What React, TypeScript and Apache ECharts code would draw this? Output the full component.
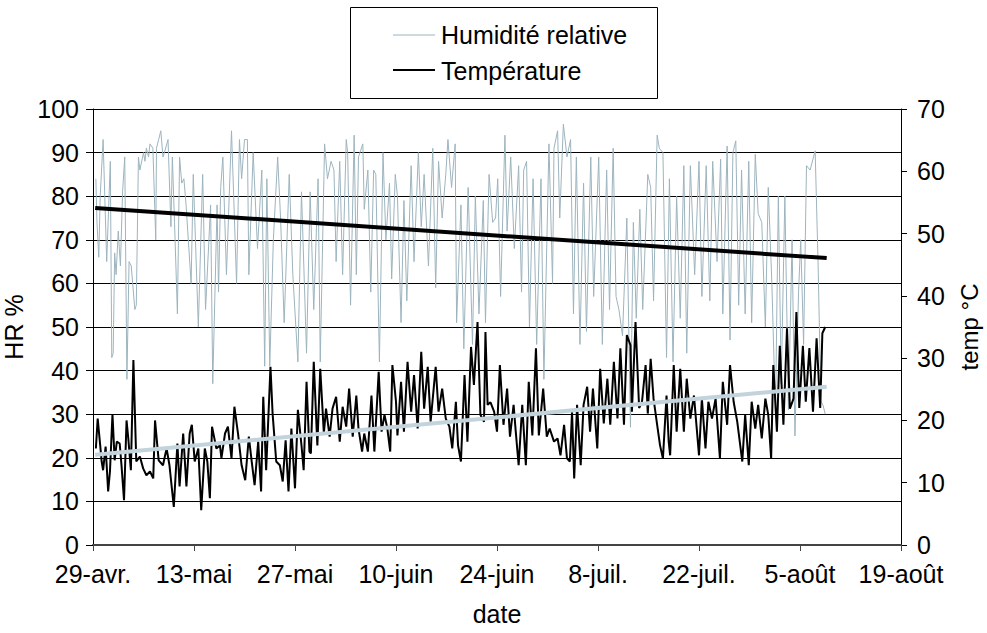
import React, { useEffect, useRef } from "react";
import * as echarts from "echarts";

const xTickLabels = ["29-avr.", "13-mai", "27-mai", "10-juin", "24-juin", "8-juil.", "22-juil.", "5-août", "19-août"];
const legendNames = ["Humidité relative", "Température"];

const hrDays = [
  0.4, 0.55, 0.8, 1.0, 1.4, 1.9, 2.4, 2.6, 2.8, 3.0, 3.2, 3.5, 3.8, 4.1, 4.4, 4.7, 5.0, 5.3, 5.8, 6.0,
  6.3, 6.5, 7.0, 7.2, 7.4, 7.7, 7.9, 8.3, 8.7, 8.8, 9.1, 9.4, 9.7, 9.9, 10.4, 10.8, 11.0, 11.3, 11.7, 12.0,
  12.3, 12.6, 12.9, 13.6, 13.9, 14.6, 15.2, 15.6, 16.3, 16.6, 17.2, 17.4, 17.7, 18.0, 18.5, 19.2, 19.9, 20.3, 20.6, 21.0,
  21.4, 21.6, 22.2, 22.8, 23.4, 23.8, 24.1, 24.5, 25.0, 25.6, 26.0, 26.5, 27.2, 27.7, 28.4, 28.9, 29.6, 30.1, 30.6, 31.2,
  31.5, 32.1, 32.5, 33.0, 33.4, 33.7, 34.2, 34.6, 35.1, 35.3, 35.7, 36.2, 36.5, 36.8, 37.4, 37.6, 38.1, 38.5, 38.9, 39.2,
  39.7, 40.2, 40.6, 41.1, 41.4, 41.9, 42.2, 42.7, 43.1, 43.5, 44.1, 44.5, 45.1, 45.5, 45.9, 46.5, 47.1, 47.5, 47.9, 48.4,
  48.9, 49.2, 49.7, 50.2, 50.4, 51.0, 51.4, 52.0, 52.6, 53.0, 53.5, 54.1, 54.4, 54.9, 55.4, 55.8, 56.1, 56.5, 57.1, 57.4,
  57.9, 58.4, 59.0, 59.4, 59.7, 60.1, 60.5, 61.0, 61.5, 62.1, 62.5, 63.2, 63.7, 63.9, 64.4, 64.7, 65.2, 65.7, 66.2, 66.6,
  67.0, 67.5, 68.0, 68.4, 69.0, 69.4, 70.1, 70.6, 71.2, 71.6, 72.1, 72.5, 72.9, 73.4, 74.0, 74.5, 74.9, 75.3, 75.8, 76.2,
  76.9, 77.3, 77.7, 78.2, 78.5, 79.0, 79.5, 79.9, 80.4, 80.9, 81.4, 81.9, 82.3, 82.8, 83.4, 84.0, 84.4, 85.0, 85.5, 85.9,
  86.5, 87.0, 87.3, 87.9, 88.3, 88.7, 89.1, 89.5, 89.9, 90.4, 90.9, 91.3, 91.8, 92.2, 92.7, 93.2, 93.6, 94.1, 94.6, 95.0,
  95.4, 95.9, 96.4, 96.9, 97.3, 97.8, 98.1, 98.5, 98.9, 99.4, 100.1, 100.5, 100.9, 101.2, 101.5
];
const hrValues = [
  84, 74, 66, 80, 93, 65, 88, 43, 44, 67, 62, 72, 64, 81, 89, 38, 65, 64, 54, 55,
  89, 86, 90, 88, 91, 89, 92, 91, 70, 91, 93, 95, 89, 90, 93, 73, 89, 74, 53, 89,
  83, 84, 78, 60, 85, 50, 85, 54, 78, 37, 78, 58, 82, 89, 62, 95, 60, 93, 84, 93,
  93, 62, 90, 68, 86, 41, 84, 41, 70, 89, 75, 51, 85, 62, 42, 81, 44, 81, 54, 84,
  42, 92, 84, 88, 86, 65, 88, 62, 93, 90, 55, 94, 62, 89, 92, 77, 86, 58, 86, 85,
  42, 90, 70, 83, 61, 85, 80, 51, 79, 56, 87, 65, 90, 73, 85, 64, 91, 59, 88, 75,
  85, 93, 82, 92, 51, 78, 45, 82, 46, 80, 53, 79, 51, 85, 74, 75, 84, 57, 94, 72,
  89, 68, 87, 58, 86, 88, 50, 84, 46, 84, 38, 92, 60, 91, 95, 75, 96.5, 89, 93, 53,
  89, 46, 83, 49, 89, 57, 89, 46, 86, 54, 91, 57, 54, 48, 75, 27, 74, 52, 77, 54,
  85, 82, 56, 94, 91, 90, 43, 84, 42, 80, 52, 87, 44, 87, 62, 88, 57, 87, 56, 88,
  65, 88.5, 53, 91.5, 47, 90, 92.7, 55, 86, 53, 88, 51, 89.6, 76, 74, 50, 82, 60, 30, 80,
  37, 80, 31, 70, 25, 58, 70, 46, 87, 86, 90.4, 65, 33, 32, 30
];

const tempDays = [
  0.4, 0.65, 1.0, 1.2, 1.4, 1.75, 2.1, 2.35, 2.7, 3.0, 3.3, 3.7, 3.95, 4.3, 4.65, 4.9, 5.25, 5.6, 6.0, 6.5,
  6.95, 7.4, 7.9, 8.35, 8.6, 9.1, 9.7, 10.2, 10.6, 11.2, 11.7, 12.0, 12.5, 12.95, 13.4, 13.7, 14.1, 14.6, 15.0, 15.5,
  15.85, 16.2, 16.5, 17.1, 17.6, 17.8, 18.3, 18.7, 19.2, 19.6, 20.1, 20.6, 21.1, 21.6, 22.0, 22.4, 22.9, 23.3, 23.6, 24.0,
  24.6, 24.9, 25.4, 25.9, 26.3, 26.7, 27.1, 27.5, 28.0, 28.4, 28.9, 29.2, 29.6, 30.0, 30.2, 30.6, 31.1, 31.5, 32.0, 32.3,
  32.8, 33.2, 33.7, 34.2, 34.6, 35.1, 35.5, 36.0, 36.5, 36.8, 37.3, 37.6, 38.1, 38.6, 39.0, 39.6, 40.0, 40.4, 40.8, 41.2,
  41.5, 42.0, 42.2, 42.7, 43.1, 43.6, 44.1, 44.5, 45.0, 45.5, 45.9, 46.4, 46.8, 47.5, 47.9, 48.4, 48.9, 49.4, 49.8, 50.3,
  50.6, 51.0, 51.5, 51.9, 52.4, 52.8, 53.3, 53.7, 54.2, 54.4, 54.7, 55.1, 55.6, 56.0, 56.4, 56.9, 57.4, 57.8, 58.3, 58.6,
  59.0, 59.5, 60.0, 60.4, 60.9, 61.4, 61.8, 62.4, 62.9, 63.3, 63.9, 64.4, 64.8, 65.3, 65.7, 66.1, 66.4, 66.7, 67.1, 67.6,
  68.0, 68.5, 68.9, 69.3, 69.9, 70.3, 70.8, 71.3, 71.7, 72.2, 72.7, 73.1, 73.6, 74.0, 74.5, 74.7, 75.2, 75.7, 76.1, 76.6,
  76.9, 77.3, 77.7, 78.2, 78.6, 79.0, 79.5, 79.8, 80.0, 80.5, 80.9, 81.4, 81.9, 82.3, 82.8, 83.3, 84.0, 84.4, 84.9, 85.3,
  85.8, 86.3, 86.9, 87.3, 87.9, 88.3, 88.8, 89.3, 90.0, 90.4, 90.9, 91.3, 91.8, 92.2, 92.7, 93.2, 93.6, 94.0, 94.3, 94.8,
  95.2, 95.7, 96.2, 96.6, 97.1, 97.5, 97.9, 98.4, 98.8, 99.3, 99.8, 100.3, 100.8, 101.1, 101.5
];
const tempValues = [
  15.5, 20.3, 16, 13.4, 12, 15.8, 8.6, 11.8, 21, 13.6, 16.6, 16.3, 12.8, 7.2, 20, 17, 12, 29.7, 13.4, 14.2,
  12.3, 11.2, 11.8, 10.7, 20, 13.6, 12.8, 15.5, 12.8, 6.1, 16.3, 9.4, 17.9, 9.4, 17.9, 19.3, 13.4, 15.5, 5.6, 15.5,
  13.4, 7.5, 19, 15.5, 16, 13.9, 17.9, 19, 13.9, 22.2, 17.9, 12.8, 10.4, 17.4, 13.4, 9.6, 16.6, 8.6, 23.8, 12,
  28.6, 21, 13.4, 12.8, 10.2, 16.8, 8.6, 18.7, 9.1, 21.7, 16, 12, 26.2, 15, 14.7, 29.4, 16, 28.3, 17.9, 21.9,
  17.4, 21.9, 23.8, 16.6, 22.2, 19, 25.1, 17.4, 24, 18.7, 15, 17.9, 15, 24, 15, 27.8, 18.2, 20.9, 18.7, 15,
  28.9, 23, 17.6, 26.2, 18.2, 29.4, 21.4, 27.3, 18.7, 31, 21.9, 28.6, 19.8, 28.6, 21.4, 25.1, 20.3, 19, 15.5, 23,
  16, 13.4, 27.3, 16.6, 31.8, 25.7, 35.8, 20.9, 19.8, 34.2, 22.5, 22.9, 21.4, 18.2, 28.9, 19.3, 25.1, 17.4, 22.5, 18.2,
  12.8, 22.5, 12.8, 26.2, 17.6, 31.6, 17.6, 25.1, 17.4, 18.7, 16.6, 17.1, 14.4, 19.3, 13.9, 13.4, 21.4, 10.7, 22.5, 12.8,
  22.5, 25.4, 18.2, 25.1, 15.5, 28.3, 19.5, 26.7, 19.3, 29.4, 20.3, 31.6, 19.3, 33.7, 32.1, 21.4, 35.8, 22, 23, 28.9,
  21.1, 29.9, 23.5, 19.3, 16, 13.9, 24, 16.6, 14.4, 28.9, 18.2, 28.3, 18.2, 26.7, 20.3, 24, 14.4, 23.5, 15.5, 23,
  20.3, 23.5, 13.9, 26.2, 19.3, 28.9, 23, 19.8, 13.4, 20.9, 12.8, 23, 18.7, 22.5, 17.1, 23.5, 20.9, 13.9, 28.9, 18.2,
  32, 19.3, 34.8, 21.9, 23.5, 37.4, 22, 32, 23, 31.6, 21.4, 33.2, 22, 34, 35
];

const trendDays = [0.3, 101.7];
const hrTrendValues = [77.3, 65.8];
const tempTrendValues = [14.5, 25.4];

const zip = (xs: number[], ys: number[]) => xs.map((x, i) => [x, ys[i]]);

const FONT = "'Liberation Sans', Arial, sans-serif";
const HR_COLOR = "#9DB4BE";

export default function App() {
  const ref = useRef<HTMLDivElement>(null);
  useEffect(() => {
    if (!ref.current) return;
    const chart = echarts.init(ref.current, null, { renderer: "svg" });
    chart.setOption({
      animation: false,
      backgroundColor: "#ffffff",
      textStyle: { fontFamily: FONT, color: "#000" },
      legend: { show: false },
      graphic: [
        {
          type: "rect",
          shape: { x: 350.5, y: 7.5, width: 307, height: 91 },
          style: { fill: "#fff", stroke: "#000", lineWidth: 1 },
          z: 10,
        },
        {
          type: "line",
          shape: { x1: 393, y1: 35, x2: 435, y2: 35 },
          style: { stroke: HR_COLOR, lineWidth: 1 },
          z: 11,
        },
        {
          type: "line",
          shape: { x1: 393, y1: 70, x2: 435, y2: 70 },
          style: { stroke: "#000", lineWidth: 2 },
          z: 11,
        },
        {
          type: "text",
          x: 441,
          y: 35,
          style: { text: legendNames[0], fontSize: 25, fontFamily: FONT, fill: "#000", verticalAlign: "middle", align: "left" },
          z: 11,
        },
        {
          type: "text",
          x: 441,
          y: 71,
          style: { text: legendNames[1], fontSize: 25, fontFamily: FONT, fill: "#000", verticalAlign: "middle", align: "left" },
          z: 11,
        },
      ],
      grid: { left: 93, right: 86, top: 109, bottom: 88, containLabel: false, outerBoundsMode: "none" },
      xAxis: {
        type: "value",
        min: 0,
        max: 112,
        interval: 14,
        name: "date",
        nameLocation: "middle",
        nameGap: 56,
        nameTextStyle: { fontSize: 25, color: "#000", fontFamily: FONT },
        axisLine: { show: true, lineStyle: { color: "#444", width: 2 } },
        axisTick: { show: true, length: 6, lineStyle: { color: "#444" } },
        axisLabel: {
          fontSize: 25,
          color: "#000",
          margin: 16,
          fontFamily: FONT,
          formatter: (v: number) => xTickLabels[Math.round(v / 14)] ?? "",
        },
        splitLine: { show: false },
      },
      yAxis: [
        {
          type: "value",
          min: 0,
          max: 100,
          interval: 10,
          position: "left",
          name: "HR %",
          nameLocation: "middle",
          nameRotate: 90,
          nameGap: 58,
          nameTextStyle: { fontSize: 25, color: "#000", fontFamily: FONT },
          axisLine: { show: true, lineStyle: { color: "#000", width: 1 } },
          axisTick: { show: true, length: 7, lineStyle: { color: "#000" } },
          axisLabel: { fontSize: 25, color: "#000", margin: 14, fontFamily: FONT },
          splitLine: { show: true, lineStyle: { color: "#000", width: 1 } },
        },
        {
          type: "value",
          min: 0,
          max: 70,
          interval: 10,
          position: "right",
          name: "temp °C",
          nameLocation: "middle",
          nameRotate: 90,
          nameGap: 56,
          nameTextStyle: { fontSize: 24, color: "#000", fontFamily: FONT },
          axisLine: { show: true, lineStyle: { color: "#000", width: 1 } },
          axisTick: { show: true, length: 6, lineStyle: { color: "#000" } },
          axisLabel: { fontSize: 25, color: "#000", margin: 16, fontFamily: FONT },
          splitLine: { show: false },
        },
      ],
      series: [
        {
          name: legendNames[0],
          type: "line",
          yAxisIndex: 0,
          data: zip(hrDays, hrValues),
          symbol: "none",
          z: 2,
          lineStyle: { color: HR_COLOR, width: 1 },
          itemStyle: { color: HR_COLOR },
        },
        {
          name: legendNames[1],
          type: "line",
          yAxisIndex: 1,
          data: zip(tempDays, tempValues),
          symbol: "none",
          z: 3,
          lineStyle: { color: "#000", width: 2 },
          itemStyle: { color: "#000" },
        },
        {
          name: "Tendance HR",
          type: "line",
          yAxisIndex: 0,
          data: zip(trendDays, hrTrendValues),
          symbol: "none",
          z: 4,
          lineStyle: { color: "#000", width: 4 },
          itemStyle: { color: "#000" },
        },
        {
          name: "Tendance température",
          type: "line",
          yAxisIndex: 1,
          data: zip(trendDays, tempTrendValues),
          symbol: "none",
          z: 5,
          lineStyle: { color: "#C3D3DC", width: 4 },
          itemStyle: { color: "#C3D3DC" },
        },
      ],
    });
    return () => chart.dispose();
  }, []);
  return (
    <div
      ref={ref}
      style={{ position: "fixed", left: 0, top: 0, width: 987, height: 633, background: "#fff" }}
    />
  );
}
